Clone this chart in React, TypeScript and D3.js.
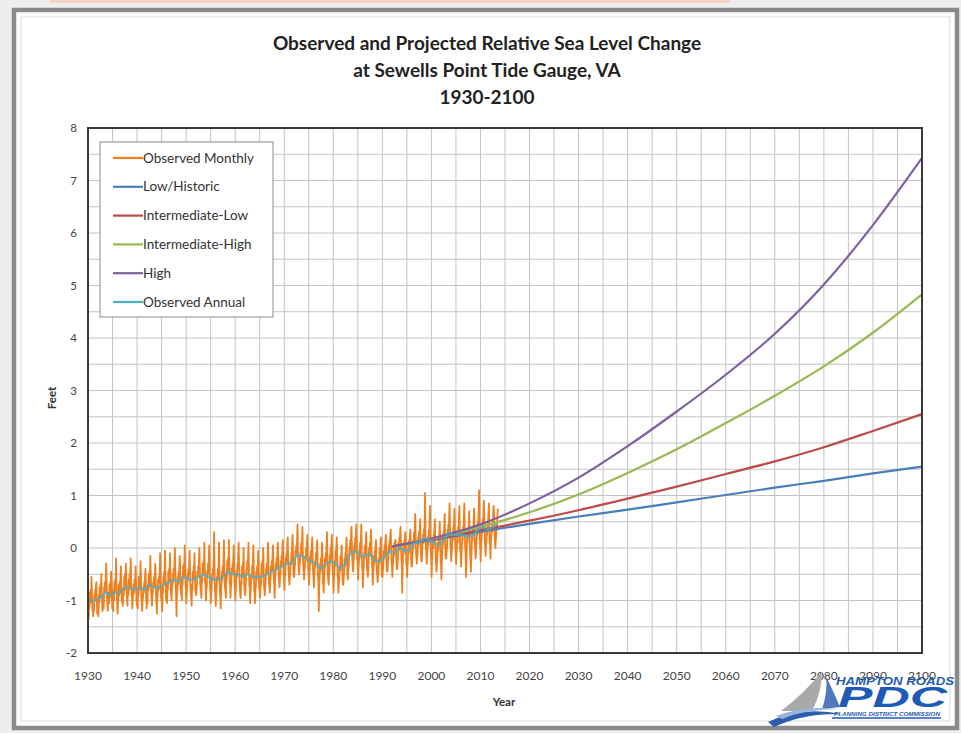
import React from "react";
import * as d3 from "d3";

// ---------- DATA ----------
const titleLines = [
  "Observed and Projected Relative Sea Level Change",
  "at Sewells Point Tide Gauge, VA",
  "1930-2100",
];
const xTicks = [1930, 1940, 1950, 1960, 1970, 1980, 1990, 2000, 2010, 2020, 2030, 2040, 2050, 2060, 2070, 2080, 2090, 2100];
const yTicks = [-2, -1, 0, 1, 2, 3, 4, 5, 6, 7, 8];

const projYears = [1992, 2000, 2010, 2020, 2030, 2040, 2050, 2060, 2070, 2080, 2090, 2100];
const lowHistoric = [0.03, 0.15, 0.31, 0.46, 0.6, 0.73, 0.87, 1.01, 1.15, 1.28, 1.42, 1.55];
const intermediateLow = [0.03, 0.16, 0.34, 0.52, 0.72, 0.94, 1.17, 1.41, 1.65, 1.92, 2.23, 2.55];
const intermediateHigh = [0.03, 0.17, 0.4, 0.68, 1.02, 1.43, 1.88, 2.38, 2.9, 3.46, 4.1, 4.83];
const high = [0.03, 0.18, 0.45, 0.85, 1.34, 1.94, 2.6, 3.3, 4.08, 5.02, 6.15, 7.43];

const annualStart = 1930;
const observedAnnual = [
  -1.0, -1.0, -0.95, -0.85, -0.9, -0.85, -0.85, -0.75, -0.75, -0.8,
  -0.75, -0.8, -0.7, -0.75, -0.75, -0.7, -0.65, -0.6, -0.65, -0.55,
  -0.6, -0.6, -0.55, -0.5, -0.55, -0.6, -0.6, -0.55, -0.45, -0.5,
  -0.5, -0.55, -0.5, -0.55, -0.55, -0.55, -0.5, -0.45, -0.4, -0.35,
  -0.3, -0.3, -0.15, -0.15, -0.2, -0.25, -0.3, -0.4, -0.3, -0.25,
  -0.3, -0.4, -0.3, -0.1, -0.05, -0.15, -0.15, -0.1, -0.25, -0.25,
  -0.15, -0.05, -0.1, 0.0, -0.05, -0.05, 0.1, 0.1, 0.2, 0.15,
  0.1, 0.05, 0.15, 0.3, 0.25, 0.25, 0.25, 0.2, 0.25, 0.35,
  0.4, 0.35, 0.4, 0.45,
];

// monthly readings, January 1930 onward
const monthlyPerYear = 12;
const observedMonthly = [
  -1.25, -1.35, -1.0, -1.15, -0.85, -1.05, -0.8, -1.0, -0.55, -0.8, -1.15, -1.2,
  -1.3, -1.1, -1.2, -0.9, -1.0, -0.8, -1.0, -0.7, -0.65, -0.95, -1.25, -1.05,
  -1.15, -1.3, -0.9, -1.05, -0.75, -0.95, -0.7, -0.9, -0.5, -0.75, -1.05, -1.2,
  -1.1, -0.95, -1.15, -0.75, -0.85, -0.65, -0.8, -0.55, -0.3, -0.65, -0.95, -1.1,
  -1.2, -1.0, -0.85, -1.05, -0.7, -0.95, -0.65, -0.85, -0.45, -0.7, -1.0, -1.15,
  -1.05, -1.2, -0.8, -1.0, -0.65, -0.85, -0.6, -0.75, -0.2, -0.6, -0.9, -1.1,
  -1.25, -1.05, -0.95, -0.7, -0.9, -0.65, -0.85, -0.55, -0.35, -0.75, -1.0, -1.05,
  -1.0, -1.1, -0.75, -0.9, -0.55, -0.8, -0.5, -0.7, -0.3, -0.55, -0.85, -1.0,
  -1.1, -0.85, -0.9, -0.6, -0.8, -0.5, -0.75, -0.45, -0.2, -0.6, -0.9, -0.95,
  -1.15, -0.95, -0.9, -0.7, -0.85, -0.6, -0.75, -0.55, -0.35, -0.65, -1.0, -1.1,
  -1.0, -1.15, -0.75, -0.9, -0.55, -0.8, -0.55, -0.65, -0.25, -0.55, -0.95, -1.05,
  -1.2, -1.0, -0.95, -0.75, -0.85, -0.65, -0.75, -0.55, -0.4, -0.7, -1.0, -1.15,
  -0.95, -1.05, -0.7, -0.8, -0.5, -0.75, -0.45, -0.6, -0.15, -0.5, -0.85, -0.95,
  -1.1, -0.9, -0.85, -0.65, -0.75, -0.55, -0.7, -0.5, -0.3, -0.6, -0.95, -1.05,
  -1.25, -1.0, -0.9, -0.6, -0.8, -0.55, -0.65, -0.45, -0.1, -0.55, -0.9, -1.0,
  -1.05, -1.2, -0.75, -0.85, -0.55, -0.7, -0.45, -0.6, -0.05, -0.5, -0.9, -1.0,
  -0.95, -1.05, -0.65, -0.8, -0.45, -0.65, -0.4, -0.55, -0.1, -0.45, -0.8, -0.9,
  -1.0, -0.8, -0.7, -0.5, -0.65, -0.4, -0.5, -0.3, 0.0, -0.4, -0.75, -0.9,
  -1.3, -0.95, -0.8, -0.55, -0.7, -0.45, -0.55, -0.35, -0.15, -0.45, -0.8, -0.85,
  -0.9, -1.0, -0.55, -0.7, -0.35, -0.55, -0.3, -0.45, 0.05, -0.35, -0.7, -0.8,
  -1.05, -0.9, -0.75, -0.5, -0.6, -0.4, -0.5, -0.3, -0.05, -0.4, -0.75, -0.9,
  -0.95, -1.1, -0.7, -0.8, -0.45, -0.6, -0.35, -0.5, -0.1, -0.45, -0.8, -0.85,
  -0.9, -0.8, -0.7, -0.45, -0.55, -0.35, -0.45, -0.2, 0.0, -0.4, -0.7, -0.8,
  -0.85, -0.95, -0.55, -0.65, -0.3, -0.5, -0.25, -0.4, 0.1, -0.3, -0.65, -0.75,
  -1.0, -0.8, -0.75, -0.45, -0.55, -0.3, -0.45, -0.2, 0.05, -0.4, -0.75, -0.85,
  -1.05, -0.85, -0.8, -0.5, -0.6, -0.4, -0.5, -0.25, 0.3, -0.35, -0.8, -0.9,
  -1.1, -0.9, -0.75, -0.55, -0.65, -0.4, -0.55, -0.25, 0.1, -0.45, -0.85, -0.9,
  -1.15, -0.85, -0.7, -0.45, -0.6, -0.35, -0.5, -0.2, 0.15, -0.4, -0.7, -0.8,
  -0.85, -0.95, -0.5, -0.6, -0.25, -0.45, -0.2, -0.35, 0.15, -0.3, -0.65, -0.7,
  -0.95, -0.75, -0.65, -0.4, -0.5, -0.3, -0.45, -0.15, 0.05, -0.35, -0.7, -0.8,
  -1.0, -0.8, -0.6, -0.45, -0.55, -0.3, -0.4, -0.15, 0.1, -0.3, -0.65, -0.75,
  -0.9, -0.95, -0.65, -0.7, -0.35, -0.55, -0.3, -0.45, 0.0, -0.4, -0.75, -0.85,
  -0.9, -0.75, -0.6, -0.4, -0.5, -0.25, -0.4, -0.15, 0.1, -0.35, -0.7, -0.75,
  -1.05, -0.85, -0.7, -0.5, -0.6, -0.35, -0.45, -0.2, 0.05, -0.4, -0.8, -0.85,
  -1.05, -0.8, -0.75, -0.45, -0.6, -0.35, -0.5, -0.25, -0.05, -0.45, -0.75, -0.8,
  -0.95, -0.85, -0.6, -0.7, -0.3, -0.5, -0.25, -0.4, 0.0, -0.4, -0.7, -0.8,
  -0.9, -0.75, -0.65, -0.4, -0.5, -0.3, -0.45, -0.15, 0.1, -0.35, -0.65, -0.7,
  -0.85, -0.7, -0.6, -0.35, -0.45, -0.25, -0.4, -0.1, 0.05, -0.3, -0.6, -0.7,
  -0.95, -0.65, -0.55, -0.3, -0.4, -0.2, -0.35, -0.05, 0.1, -0.25, -0.55, -0.65,
  -0.75, -0.6, -0.5, -0.25, -0.35, -0.15, -0.3, 0.0, 0.15, -0.2, -0.5, -0.6,
  -0.8, -0.55, -0.5, -0.2, -0.3, -0.1, -0.25, 0.05, 0.2, -0.15, -0.45, -0.55,
  -0.7, -0.6, -0.45, -0.25, -0.3, -0.1, -0.2, 0.1, 0.25, -0.1, -0.5, -0.55,
  -0.55, -0.4, -0.3, -0.05, -0.15, 0.05, -0.1, 0.2, 0.45, 0.0, -0.3, -0.4,
  -0.5, -0.35, -0.25, -0.1, -0.15, 0.1, -0.1, 0.15, 0.4, -0.05, -0.35, -0.45,
  -0.6, -0.45, -0.35, -0.15, -0.25, 0.0, -0.15, 0.1, 0.25, -0.1, -0.4, -0.5,
  -0.7, -0.5, -0.4, -0.15, -0.3, -0.05, -0.2, 0.05, 0.2, -0.15, -0.45, -0.55,
  -0.75, -0.55, -0.45, -0.25, -0.35, -0.1, -0.25, 0.0, 0.15, -0.2, -0.55, -0.6,
  -1.2, -0.75, -0.6, -0.3, -0.45, -0.2, -0.35, -0.1, 0.1, -0.3, -0.65, -0.7,
  -0.85, -0.6, -0.45, -0.2, -0.35, -0.1, -0.25, 0.05, 0.3, -0.15, -0.5, -0.6,
  -0.7, -0.55, -0.4, -0.15, -0.3, 0.0, -0.2, 0.1, 0.25, -0.1, -0.45, -0.55,
  -0.85, -0.6, -0.45, -0.25, -0.35, -0.05, -0.25, 0.05, 0.2, -0.15, -0.55, -0.6,
  -0.85, -0.7, -0.6, -0.35, -0.45, -0.15, -0.35, -0.1, 0.05, -0.25, -0.6, -0.7,
  -0.7, -0.55, -0.45, -0.2, -0.35, -0.1, -0.25, 0.05, 0.2, -0.15, -0.5, -0.6,
  -0.5, -0.35, -0.25, 0.0, -0.1, 0.15, -0.05, 0.25, 0.4, 0.05, -0.25, -0.35,
  -0.45, -0.3, -0.15, 0.05, -0.1, 0.2, 0.0, 0.3, 0.45, 0.1, -0.2, -0.3,
  -0.6, -0.4, -0.3, -0.05, -0.2, 0.1, -0.1, 0.15, 0.45, -0.05, -0.35, -0.45,
  -0.75, -0.45, -0.35, -0.1, -0.2, 0.05, -0.1, 0.15, 0.3, -0.05, -0.4, -0.45,
  -0.55, -0.4, -0.25, 0.0, -0.15, 0.1, -0.05, 0.2, 0.35, 0.0, -0.3, -0.4,
  -0.7, -0.5, -0.4, -0.15, -0.3, -0.05, -0.2, 0.05, 0.15, -0.15, -0.45, -0.5,
  -0.65, -0.55, -0.45, -0.2, -0.3, 0.0, -0.2, 0.1, 0.2, -0.1, -0.5, -0.55,
  -0.55, -0.4, -0.3, -0.05, -0.2, 0.05, -0.1, 0.15, 0.25, -0.05, -0.35, -0.45,
  -0.45, -0.3, -0.2, 0.05, -0.1, 0.15, 0.0, 0.25, 0.35, 0.05, -0.25, -0.35,
  -0.55, -0.35, -0.25, 0.0, -0.15, 0.1, -0.05, 0.15, 0.15, -0.05, -0.3, -0.4,
  -0.4, -0.25, -0.15, 0.1, -0.05, 0.2, 0.05, 0.3, 0.4, 0.1, -0.2, -0.3,
  -0.85, -0.4, -0.2, 0.05, -0.1, 0.15, 0.0, 0.25, 0.3, 0.0, -0.3, -0.35,
  -0.55, -0.35, -0.25, 0.05, -0.1, 0.15, 0.05, 0.25, 0.35, 0.05, -0.25, -0.35,
  -0.35, -0.2, -0.05, 0.15, 0.0, 0.3, 0.1, 0.4, 0.65, 0.2, -0.1, -0.2,
  -0.3, -0.15, -0.1, 0.2, 0.05, 0.3, 0.2, 0.4, 0.55, 0.15, -0.15, -0.25,
  -0.25, -0.05, 0.1, 0.25, 0.1, 0.35, 0.25, 0.55, 1.05, 0.3, 0.0, -0.1,
  -0.3, -0.15, 0.0, 0.2, 0.05, 0.35, 0.25, 0.5, 0.8, 0.25, -0.1, -0.2,
  -0.55, -0.25, -0.1, 0.15, 0.0, 0.25, 0.15, 0.4, 0.55, 0.2, -0.2, -0.3,
  -0.45, -0.3, -0.15, 0.1, -0.05, 0.2, 0.1, 0.35, 0.5, 0.15, -0.25, -0.3,
  -0.6, -0.25, -0.05, 0.2, 0.05, 0.3, 0.2, 0.45, 0.65, 0.25, -0.15, -0.2,
  -0.2, -0.05, 0.05, 0.35, 0.2, 0.45, 0.35, 0.65, 0.85, 0.4, 0.05, -0.05,
  -0.25, -0.1, 0.0, 0.3, 0.15, 0.4, 0.3, 0.55, 0.75, 0.35, 0.0, -0.1,
  -0.3, -0.1, 0.05, 0.25, 0.1, 0.4, 0.35, 0.6, 0.8, 0.35, -0.05, -0.1,
  -0.35, -0.15, 0.0, 0.25, 0.15, 0.4, 0.3, 0.6, 0.85, 0.4, 0.0, -0.1,
  -0.55, -0.25, -0.05, 0.2, 0.1, 0.35, 0.25, 0.5, 0.7, 0.3, -0.1, -0.2,
  -0.45, -0.2, 0.0, 0.25, 0.15, 0.4, 0.3, 0.55, 0.75, 0.35, 0.0, -0.1,
  -0.2, 0.0, 0.1, 0.35, 0.25, 0.5, 0.45, 0.7, 1.1, 0.5, 0.1, 0.0,
  -0.25, 0.05, 0.15, 0.4, 0.3, 0.55, 0.5, 0.75, 0.9, 0.55, 0.15, 0.05,
  -0.15, 0.05, 0.1, 0.35, 0.25, 0.5, 0.45, 0.7, 0.85, 0.5, 0.1, 0.05,
  -0.2, 0.1, 0.2, 0.4, 0.3, 0.55, 0.5, 0.75, 0.8, 0.55, 0.2, 0.1,
  0.0, 0.15, 0.25, 0.5, 0.35, 0.65, 0.75,
];

const legendItems = [
  { label: "Observed Monthly", color: "#EE801F" },
  { label: "Low/Historic", color: "#4A7EBB" },
  { label: "Intermediate-Low", color: "#BE4B48" },
  { label: "Intermediate-High", color: "#98B954" },
  { label: "High", color: "#7D60A0" },
  { label: "Observed Annual", color: "#4BACC6" },
];

// ---------- CHART ----------
const W = 961;
const H = 733;
const plot = { left: 88, right: 922, top: 128, bottom: 653 };
const FONT = "Lato, 'Open Sans', sans-serif";

export default function App() {
  const x = d3.scaleLinear().domain([1930, 2100]).range([plot.left, plot.right]);
  const y = d3.scaleLinear().domain([-2, 8]).range([plot.bottom, plot.top]);

  const gridX = d3.range(1935, 2100, 5);
  const gridY = d3.range(-1.5, 8, 0.5);

  const lineXY = d3
    .line<[number, number]>()
    .x((d) => x(d[0]))
    .y((d) => y(d[1]));

  const monthlyPts: [number, number][] = observedMonthly.map((v, i) => [
    annualStart + (i + 0.5) / monthlyPerYear,
    v,
  ]);
  const annualPts: [number, number][] = observedAnnual.map((v, i) => [annualStart + i + 0.5, v]);

  const projLine = d3
    .line<[number, number]>()
    .x((d) => x(d[0]))
    .y((d) => y(d[1]))
    .curve(d3.curveMonotoneX);
  const proj = (vals: number[]) => projLine(projYears.map((yr, i) => [yr, vals[i]] as [number, number]));

  const projections = [
    { vals: lowHistoric, color: legendItems[1].color },
    { vals: intermediateLow, color: legendItems[2].color },
    { vals: intermediateHigh, color: legendItems[3].color },
    { vals: high, color: legendItems[4].color },
  ];

  const legend = { x: 100, y: 142, w: 173, h: 175, row0: 158, step: 28.8 };

  return (
    <svg
      width={W}
      height={H}
      style={{ position: "absolute", left: 0, top: 0 }}
      fontFamily={FONT}
    >
      <rect x={0} y={0} width={W} height={H} fill="#eeeeee" />
      <rect x={50} y={0} width={680} height={3} fill="#f5d3c6" />
      <rect x={14} y={10} width={943} height={718} fill="#ffffff" stroke="#8a8a8a" strokeWidth={4.5} />
      <rect x={21} y={17} width={929} height={704} fill="none" stroke="#e6e6e6" strokeWidth={1.5} />

      {/* title */}
      {titleLines.map((t, i) => (
        <text
          key={i}
          x={487}
          y={50 + i * 27}
          textAnchor="middle"
          fontSize={19}
          fontWeight={700}
          fill="#222"
        >
          {t}
        </text>
      ))}

      {/* grid */}
      <g stroke="#c4c4c4" strokeWidth={1}>
        {gridX.map((g) => (
          <line key={"gx" + g} x1={x(g)} x2={x(g)} y1={plot.top} y2={plot.bottom} />
        ))}
        {gridY.map((g) => (
          <line key={"gy" + g} x1={plot.left} x2={plot.right} y1={y(g)} y2={y(g)} />
        ))}
      </g>

      {/* series */}
      <path d={lineXY(monthlyPts) || ""} fill="none" stroke={legendItems[0].color} strokeWidth={1.8} strokeLinejoin="round" />
      {projections.map((p, i) => (
        <path key={i} d={proj(p.vals) || ""} fill="none" stroke={p.color} strokeWidth={2.2} />
      ))}
      <path d={lineXY(annualPts) || ""} fill="none" stroke={legendItems[5].color} strokeWidth={2.4} strokeLinejoin="round" opacity={0.7} />

      {/* plot border */}
      <rect
        x={plot.left}
        y={plot.top}
        width={plot.right - plot.left}
        height={plot.bottom - plot.top}
        fill="none"
        stroke="#3a3a3a"
        strokeWidth={2}
      />

      {/* y ticks */}
      {yTicks.map((t) => (
        <text key={"yt" + t} x={77} y={y(t) + 4} textAnchor="end" fontSize={11.5} fill="#444">
          {t}
        </text>
      ))}
      {/* x ticks */}
      {xTicks.map((t) => (
        <text key={"xt" + t} x={x(t)} y={680} textAnchor="middle" fontSize={12} fill="#444">
          {t}
        </text>
      ))}

      <text x={504} y={706} textAnchor="middle" fontSize={11.5} fontWeight={700} fill="#333">
        Year
      </text>
      <text
        transform="translate(56,398) rotate(-90)"
        textAnchor="middle"
        fontSize={11.5}
        fontWeight={700}
        fill="#333"
      >
        Feet
      </text>

      {/* legend */}
      <rect x={legend.x} y={legend.y} width={legend.w} height={legend.h} fill="#ffffff" stroke="#8c8c8c" strokeWidth={1} />
      {legendItems.map((it, i) => {
        const yy = legend.row0 + i * legend.step;
        return (
          <g key={it.label}>
            <line x1={113} x2={143} y1={yy} y2={yy} stroke={it.color} strokeWidth={2.2} />
            <text x={143} y={yy + 4.5} fontSize={13.5} fill="#333">
              {it.label}
            </text>
          </g>
        );
      })}

      {/* logo */}
      <g>
        <path d="M 822 671 Q 806 692 781 711 L 812 711 Q 822 692 822 671 Z" fill="#a9a9a9" />
        <path d="M 826 676 Q 834 693 840 707 L 822 709 Q 828 692 826 676 Z" fill="#4f78bd" />
        <path d="M 768 722 Q 800 706 842 714 Q 804 713 774 727 Z" fill="#2b5fae" />
        <path d="M 776 716 Q 805 705 838 709 Q 806 709 782 719 Z" fill="#9bb4db" />
        <text x={836} y={685} fontSize={10.5} fontStyle="italic" fontWeight={700} fill="#1f5cb0" textLength={118} lengthAdjust="spacingAndGlyphs" fontFamily="'Liberation Sans', sans-serif">
          HAMPTON ROADS
        </text>
        <text x={838} y={707} fontSize={29} fontStyle="italic" fontWeight={900} fill="#1d5bb6" textLength={109} lengthAdjust="spacingAndGlyphs" fontFamily="'Liberation Sans', sans-serif">
          PDC
        </text>
        <text x={834} y={715.5} fontSize={5} fontStyle="italic" fontWeight={700} fill="#1f5cb0" textLength={106} lengthAdjust="spacingAndGlyphs" fontFamily="'Liberation Sans', sans-serif">
          PLANNING DISTRICT COMMISSION
        </text>
        <line x1={832} x2={941} y1={718} y2={718} stroke="#1f5cb0" strokeWidth={1.3} />
      </g>
    </svg>
  );
}
